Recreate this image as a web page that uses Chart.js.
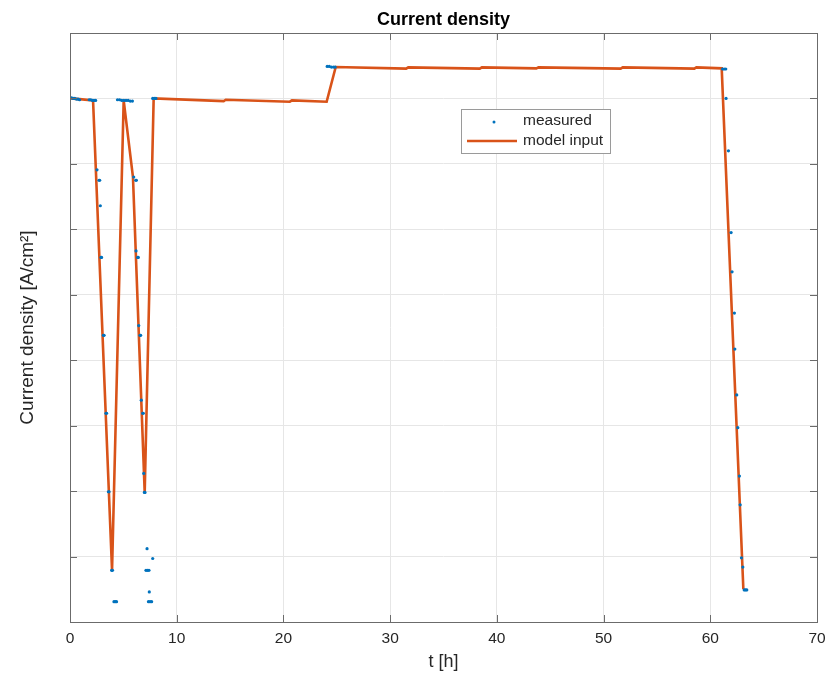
<!DOCTYPE html>
<html>
<head>
<meta charset="utf-8">
<title>Current density</title>
<script src="https://cdn.jsdelivr.net/npm/chart.js@4.4.1/dist/chart.umd.min.js"></script>
<style>
  html, body { margin: 0; padding: 0; background: #fff; }
  #chart { display: block; }
</style>
</head>
<body>
<canvas id="chart" width="829" height="675"></canvas>
<script>
// measured samples (t in h, value in axis units)
const measuredT = [
  0, 0.15, 0.3, 0.45, 0.6, 0.75, 0.9,
  1.8, 1.95, 2.1, 2.25, 2.4,
  2.53, 2.72, 2.78, 2.84, 2.9, 2.96, 3.13, 3.19, 3.37, 3.43, 3.6, 3.66, 3.9, 3.98,
  4.12, 4.24, 4.36,
  4.45, 4.65, 4.85, 5.05, 5.25, 5.45, 5.65, 5.85,
  5.97, 6.16, 6.22, 6.19, 6.34, 6.4, 6.44, 6.56, 6.62, 6.68, 6.81, 6.87, 6.91, 6.97, 7.03,
  7.22, 7.12, 7.26, 7.4, 7.43, 7.35, 7.5, 7.65, 7.75,
  7.75, 7.9, 8.05,
  24.1, 24.3, 24.5, 24.7, 24.85,
  61.15, 61.3, 61.45,
  61.48, 61.7, 61.95, 62.04, 62.26, 62.3, 62.48, 62.58, 62.73, 62.8, 62.92, 63.05,
  63.18, 63.3, 63.42
];
const measuredV = [
  8.01, 8.01, 8.0, 8.0, 7.99, 7.99, 7.98,
  7.98, 7.98, 7.97, 7.97, 7.97,
  6.91, 6.75, 6.75, 6.36, 5.57, 5.57, 4.38, 4.38, 3.19, 3.19, 1.99, 1.99, 0.79, 0.79,
  0.31, 0.31, 0.31,
  7.98, 7.98, 7.97, 7.97, 7.97, 7.97, 7.96, 7.96,
  6.8, 6.75, 6.75, 5.67, 5.57, 5.57, 4.53, 4.38, 4.38, 3.39, 3.19, 3.19, 2.27, 1.98, 1.98,
  1.12, 0.79, 0.79, 0.79, 0.46, 0.31, 0.31, 0.31, 0.97,
  8.0, 8.0, 8.0,
  8.49, 8.49, 8.48, 8.48, 8.48,
  8.45, 8.45, 8.45,
  8.0, 7.2, 5.95, 5.35, 4.72, 4.17, 3.47, 2.97, 2.23, 1.79, 0.98, 0.84,
  0.49, 0.49, 0.49
];

// model input (piecewise linear)
const modelT = [0, 0.9, 2.16, 3.94, 5.03, 5.9, 7.0, 7.84, 14.4, 14.6, 20.6, 20.8, 24.05, 24.9,
  31.5, 31.7, 38.4, 38.6, 43.7, 43.9, 51.6, 51.8, 58.5, 58.7, 61.07, 63.1];
const modelV = [8.0, 7.99, 7.97, 0.79, 7.97, 6.8, 1.98, 8.0, 7.96, 7.98, 7.95, 7.97, 7.95, 8.48,
  8.455, 8.475, 8.455, 8.475, 8.46, 8.475, 8.455, 8.475, 8.455, 8.475, 8.46, 0.5];

const xTicks = [0, 10, 20, 30, 40, 50, 60, 70];
const yTicks = [0, 1, 2, 3, 4, 5, 6, 7, 8, 9];

const BLUE = '#0072BD';
const ORANGE = '#D95319';
const FONT = '"Liberation Sans", Arial, Helvetica, sans-serif';

const measured = measuredT.map((t, i) => ({ x: t, y: measuredV[i] }));
const model = modelT.map((t, i) => ({ x: t, y: modelV[i] }));

// box, inward ticks, title and legend, MATLAB style
const matlabAxes = {
  id: 'matlabAxes',
  afterDatasetsDraw(chart) {
    const { ctx, chartArea: a, scales: { x, y } } = chart;
    ctx.save();
    ctx.strokeStyle = '#6b6b6b';
    ctx.lineWidth = 1;
    ctx.beginPath();
    xTicks.forEach(v => {
      const px = Math.round(x.getPixelForValue(v)) + 0.5;
      ctx.moveTo(px, a.bottom); ctx.lineTo(px, a.bottom - 7);
      ctx.moveTo(px, a.top); ctx.lineTo(px, a.top + 7);
    });
    yTicks.forEach(v => {
      const py = Math.round(y.getPixelForValue(v)) + 0.5;
      ctx.moveTo(a.left, py); ctx.lineTo(a.left + 7, py);
      ctx.moveTo(a.right, py); ctx.lineTo(a.right - 7, py);
    });
    ctx.stroke();
    ctx.strokeRect(Math.round(a.left) + 0.5, Math.round(a.top) + 0.5,
      Math.round(a.right - a.left), Math.round(a.bottom - a.top));

    // title centred over the axes
    ctx.fillStyle = '#000';
    ctx.font = 'bold 18px ' + FONT;
    ctx.textAlign = 'center';
    ctx.textBaseline = 'middle';
    ctx.fillText('Current density', (a.left + a.right) / 2, 20);

    // legend
    const lx = 461, ly = 109, lw = 149, lh = 44;
    ctx.fillStyle = '#fff';
    ctx.fillRect(lx, ly, lw, lh);
    ctx.strokeStyle = '#9a9a9a';
    ctx.strokeRect(lx + 0.5, ly + 0.5, lw, lh);
    const sets = chart.data.datasets;
    ctx.font = '15.5px ' + FONT;
    ctx.textAlign = 'left';
    ctx.fillStyle = '#262626';
    ctx.fillText(sets[0].label, 523, ly + 12);
    ctx.fillText(sets[1].label, 523, ly + 32);
    ctx.fillStyle = BLUE;
    ctx.beginPath();
    ctx.arc(494, ly + 13, 1.5, 0, Math.PI * 2);
    ctx.fill();
    ctx.strokeStyle = ORANGE;
    ctx.lineWidth = 2.5;
    ctx.beginPath();
    ctx.moveTo(467, ly + 32); ctx.lineTo(517, ly + 32);
    ctx.stroke();
    ctx.restore();
  }
};

new Chart(document.getElementById('chart'), {
  type: 'scatter',
  data: {
    datasets: [
      {
        label: 'measured',
        data: measured,
        pointRadius: 1.6,
        pointHoverRadius: 1.6,
        pointBorderWidth: 0,
        backgroundColor: BLUE,
        borderColor: BLUE
      },
      {
        label: 'model input',
        data: model,
        showLine: true,
        pointRadius: 0,
        borderColor: ORANGE,
        backgroundColor: ORANGE,
        borderWidth: 2.6,
        tension: 0
      }
    ]
  },
  options: {
    responsive: false,
    animation: false,
    layout: { padding: { left: 0, right: 0, top: 33, bottom: 0 } },
    plugins: {
      legend: { display: false },
      tooltip: { enabled: false },
      title: { display: false }
    },
    scales: {
      x: {
        type: 'linear',
        min: 0,
        max: 70,
        afterBuildTicks: s => { s.ticks = xTicks.map(v => ({ value: v })); },
        afterFit: s => { s.height = 53; s.paddingLeft = 0; s.paddingRight = 12; },
        ticks: {
          color: '#262626',
          font: { family: FONT, size: 15.5 },
          padding: 7,
          maxRotation: 0
        },
        grid: { color: '#e6e6e6', drawTicks: false },
        border: { display: false },
        title: {
          display: true,
          text: 't [h]',
          color: '#262626',
          font: { family: FONT, size: 18 },
          padding: { top: 0, bottom: 2 }
        }
      },
      y: {
        type: 'linear',
        min: 0,
        max: 9,
        afterBuildTicks: s => { s.ticks = yTicks.map(v => ({ value: v })); },
        afterFit: s => { s.width = 70; s.paddingTop = 0; s.paddingBottom = 0; },
        ticks: { display: false },
        grid: { color: '#e6e6e6', drawTicks: false },
        border: { display: false },
        title: {
          display: true,
          text: 'Current density [A/cm²]',
          color: '#262626',
          font: { family: FONT, size: 19 },
          padding: { top: 16, bottom: 0 }
        }
      }
    }
  },
  plugins: [matlabAxes]
});
</script>
</body>
</html>
